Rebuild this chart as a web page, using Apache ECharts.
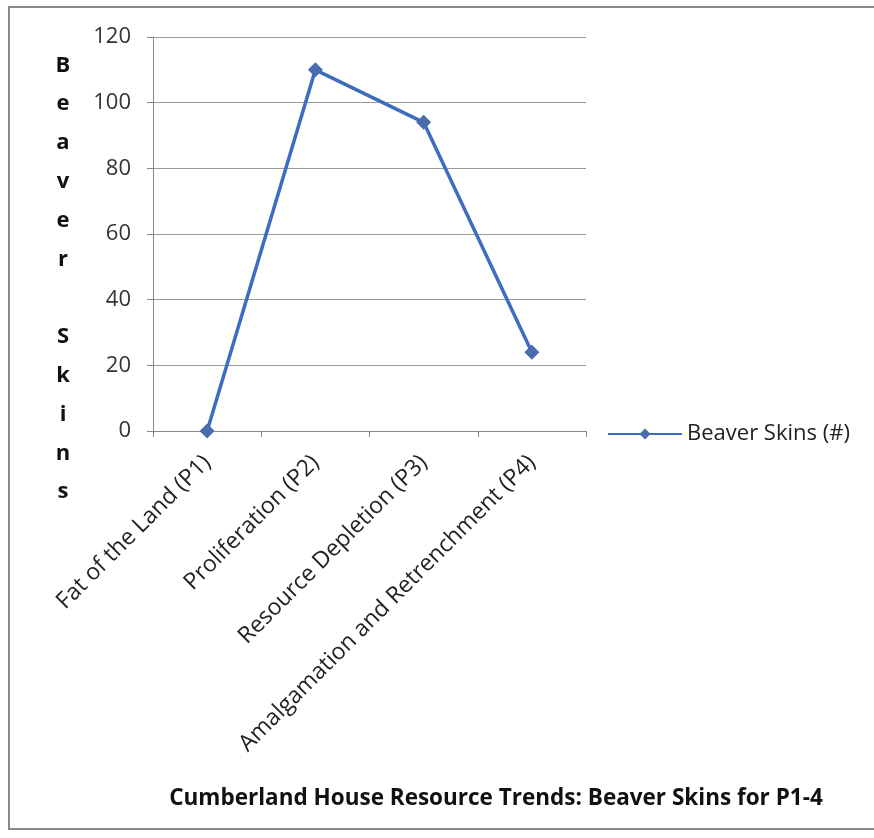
<!DOCTYPE html>
<html><head><meta charset="utf-8">
<script src="https://cdn.jsdelivr.net/npm/echarts@6/dist/echarts.min.js"></script>
<style>html,body{margin:0;padding:0;background:#fff}#c{width:874px;height:838px}</style>
</head><body><div id="c"></div>
<script>
var categories = ['Fat of the Land (P1)', 'Proliferation (P2)', 'Resource Depletion (P3)', 'Amalgamation and Retrenchment (P4)'];
var beaverSkins = [0, 110, 94, 24];
var seriesName = 'Beaver Skins (#)';
var yTicks = [0, 20, 40, 60, 80, 100, 120];
var chartTitle = 'Cumberland House Resource Trends: Beaver Skins for P1-4';
var yAxisTitle = 'Beaver Skins';

var chart = echarts.init(document.getElementById('c'));
var font = 'Open Sans';
chart.setOption({
  backgroundColor: '#ffffff',
  animation: false,
  title: {
    text: chartTitle, left: 491, top: 782, textAlign: 'center',
    textStyle: {fontFamily: font, fontSize: 22.5, fontWeight: 'bold', color: '#111'}
  },
  legend: {
    data: [seriesName], left: 602, top: 418, itemWidth: 74, itemHeight: 14, itemGap: 4,
    textStyle: {fontFamily: font, fontSize: 22, color: '#222', padding: [0, 0, 0, 0]}
  },
  graphic: [
    {type: 'rect', shape: {x: 9, y: 7, width: 880, height: 822}, style: {fill: 'none', stroke: '#8a8a8a', lineWidth: 2}, silent: true},
    {type: 'text', x: 63, y: 46, style: {
      text: yAxisTitle.split('').join('\n'), fontFamily: font, fontSize: 22, fontWeight: 'bold',
      lineHeight: 38.8, fill: '#111', align: 'center', verticalAlign: 'top'}}
  ],
  grid: {left: 153, top: 37, right: 288, bottom: 407},
  xAxis: {
    type: 'category', data: categories, boundaryGap: true,
    axisLine: {lineStyle: {color: '#888', width: 1}},
    axisTick: {show: true, length: 6, lineStyle: {color: '#888'}},
    axisLabel: {rotate: 45, margin: 28, fontFamily: font, fontSize: 23, color: '#222', interval: 0}
  },
  yAxis: {
    type: 'value', min: 0, max: 120, interval: 20,
    axisLine: {show: true, lineStyle: {color: '#888'}},
    axisTick: {show: true, length: 6, lineStyle: {color: '#888'}},
    splitLine: {lineStyle: {color: '#999', width: 1}},
    axisLabel: {fontFamily: font, fontSize: 22, color: '#333', margin: 22,
      formatter: function (v) { return yTicks.indexOf(v) >= 0 ? String(v) : ''; }}
  },
  series: [{
    name: seriesName, type: 'line', data: beaverSkins,
    symbol: 'diamond', symbolSize: 15,
    lineStyle: {color: '#3d6cc0', width: 3.5},
    itemStyle: {color: '#4a6cae'}
  }]
});
</script></body></html>
